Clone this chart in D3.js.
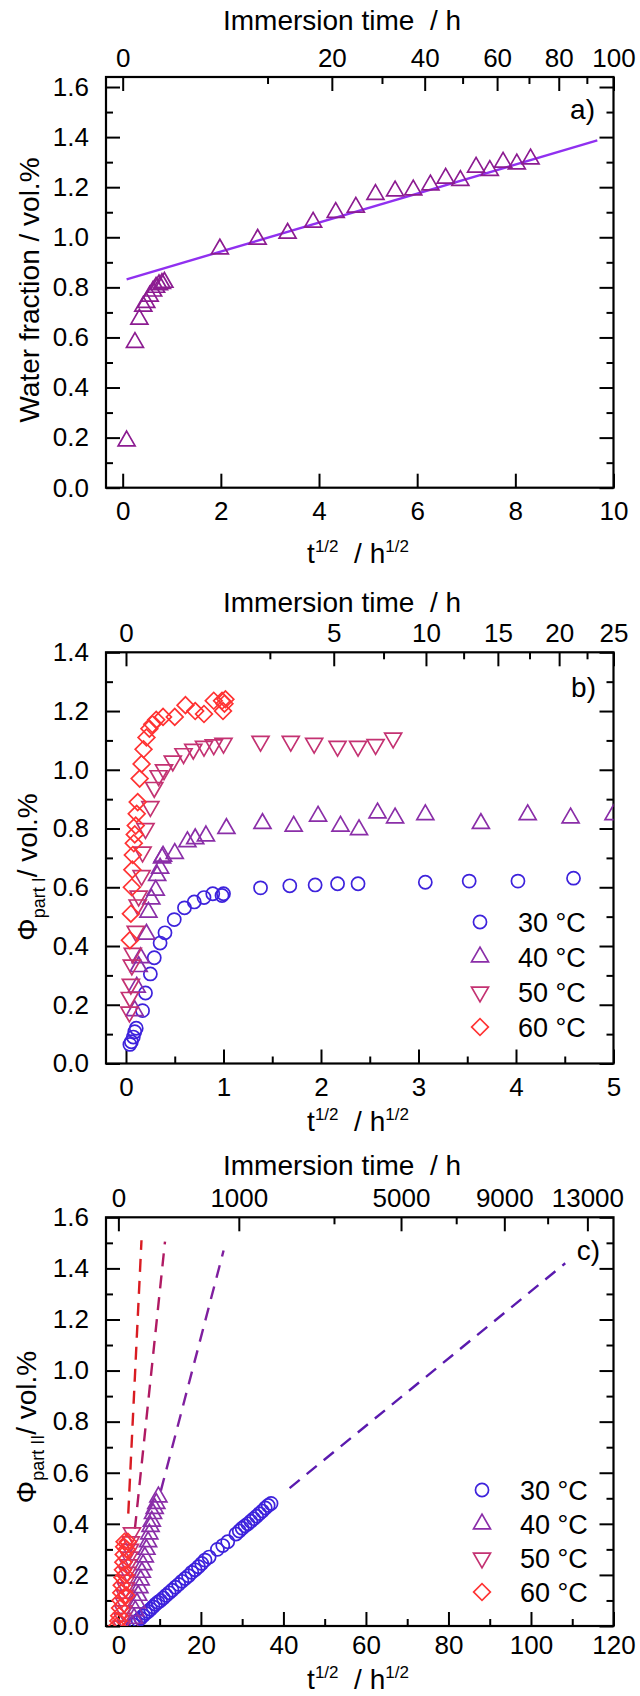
<!DOCTYPE html>
<html>
<head>
<meta charset="utf-8">
<script src="https://cdn.jsdelivr.net/npm/d3@7"></script>
<style>
body { margin: 0; background: #fff; }
svg { display: block; font-family: "Liberation Sans", Arial, sans-serif; }
</style>
</head>
<body>
<svg id="chart" width="640" height="1696"></svg>
<script>
// ---- panel a : water fraction vs t^1/2 ----
var aPoints = [[0.08,0.187],[0.25,0.58],[0.34,0.673],[0.42,0.725],[0.48,0.74],[0.55,0.765],[0.62,0.785],[0.68,0.80],[0.74,0.81],[0.80,0.815],[0.85,0.82],
	[1.98,0.953],[2.75,0.992],[3.36,1.016],[3.88,1.06],[4.34,1.099],[4.75,1.12],[5.15,1.171],[5.55,1.185],[5.92,1.189],[6.27,1.209],
	[6.58,1.236],[6.88,1.227],[7.2,1.28],[7.48,1.267],[7.75,1.30],[8.03,1.293],[8.31,1.313]];
var aFit = [[0.08,0.832],[9.67,1.387]];
var aXTicks = [0,2,4,6,8,10];
var aYTicks = [0,0.2,0.4,0.6,0.8,1.0,1.2,1.4,1.6];
var aYMinor = [0.1,0.3,0.5,0.7,0.9,1.1,1.3,1.5];
var aTopTicks = [0,20,40,60,80,100];
var aTopMinor = [10,30,50,70,90];

// ---- panel b : part I ----
var b30 = [[0.04,0.065],[0.055,0.074],[0.075,0.09],[0.09,0.108],[0.105,0.12],[0.17,0.18],[0.20,0.24],[0.25,0.305],[0.29,0.36],[0.35,0.41],[0.40,0.445],
	[0.495,0.49],[0.60,0.53],[0.70,0.55],[0.80,0.565],[0.89,0.578],[0.985,0.572],[1.0,0.578],[1.38,0.598],[1.68,0.605],[1.94,0.608],[2.17,0.612],
	[2.38,0.612],[3.07,0.617],[3.52,0.621],[4.02,0.621],[4.59,0.631]];
var b40 = [[0.09,0.18],[0.11,0.26],[0.13,0.33],[0.15,0.36],[0.21,0.44],[0.23,0.515],[0.26,0.56],[0.305,0.59],[0.32,0.64],[0.35,0.665],[0.37,0.70],
	[0.38,0.706],[0.50,0.715],[0.63,0.755],[0.71,0.765],[0.82,0.775],[1.03,0.80],[1.40,0.817],[1.72,0.808],[1.97,0.842],[2.2,0.808],[2.39,0.796],
	[2.58,0.853],[2.76,0.836],[3.07,0.847],[3.64,0.817],[4.12,0.847],[4.56,0.836],[5.0,0.847]];
var b50 = [[0.035,0.175],[0.04,0.225],[0.05,0.27],[0.06,0.335],[0.07,0.375],[0.10,0.45],[0.12,0.54],[0.13,0.57],[0.16,0.64],[0.17,0.72],[0.20,0.80],
	[0.25,0.875],[0.29,0.94],[0.335,0.98],[0.39,1.0],[0.48,1.03],[0.59,1.055],[0.69,1.07],[0.80,1.08],[0.90,1.085],[1.0,1.09],[1.38,1.097],
	[1.69,1.097],[1.93,1.09],[2.17,1.08],[2.38,1.08],[2.56,1.086],[2.74,1.108]];
var b60 = [[0.04,0.42],[0.05,0.51],[0.06,0.60],[0.065,0.66],[0.07,0.71],[0.08,0.75],[0.09,0.78],[0.10,0.81],[0.11,0.85],[0.12,0.89],[0.14,0.97],
	[0.16,1.02],[0.18,1.07],[0.21,1.11],[0.24,1.14],[0.27,1.155],[0.31,1.17],[0.38,1.18],[0.50,1.18],[0.61,1.22],[0.71,1.20],[0.80,1.19],
	[0.90,1.235],[0.985,1.235],[0.995,1.20],[1.01,1.225],[1.02,1.24]];
var bXTicks = [0,1,2,3,4,5];
var bXMinor = [0.5,1.5,2.5,3.5,4.5];
var bYTicks = [0,0.2,0.4,0.6,0.8,1.0,1.2,1.4];
var bYMinor = [0.1,0.3,0.5,0.7,0.9,1.1,1.3];
var bTopTicks = [0,5,10,15,20,25];
var bTopMinor = [2.5,7.5,12.5,17.5,22.5];

// ---- panel c : part II ----
var c30 = [[3.6,0.005],[4.2,0.015],[4.8,0.022],[5.4,0.03],[6.0,0.04],[6.6,0.05],[7.2,0.057],[7.8,0.066],[8.4,0.075],[9.0,0.085],[9.6,0.093],
	[10.2,0.10],[10.9,0.11],[11.6,0.12],[12.3,0.13],[13.0,0.14],[13.8,0.152],[14.6,0.163],[15.4,0.175],[16.2,0.186],[17.0,0.197],[17.8,0.21],
	[18.6,0.22],[19.4,0.232],[20.2,0.245],[21.0,0.258],[22.0,0.27],[24.0,0.30],[25.3,0.315],[26.5,0.33],[28.5,0.36],[29.3,0.372],[30.0,0.383],
	[30.7,0.392],[31.4,0.40],[32.1,0.41],[32.8,0.42],[33.5,0.43],[34.2,0.44],[34.9,0.45],[35.6,0.462],[36.3,0.472],[37.0,0.48]];
var c40 = [[3.4,0.0],[3.8,0.03],[4.1,0.06],[4.5,0.09],[4.8,0.12],[5.1,0.15],[5.4,0.18],[5.7,0.21],[6.0,0.24],[6.4,0.27],[6.8,0.30],[7.2,0.33],
	[7.5,0.36],[7.8,0.39],[8.1,0.41],[8.4,0.44],[8.8,0.46],[9.2,0.48],[9.7,0.505]];
var c50 = [[0.8,0.0],[1.0,0.03],[1.2,0.06],[1.4,0.09],[1.6,0.12],[1.8,0.15],[2.0,0.18],[2.2,0.21],[2.4,0.24],[2.6,0.27],[2.8,0.30],[3.0,0.33],[3.3,0.365]];
var c60 = [[-0.3,0.0],[0.0,0.02],[0.2,0.04],[0.4,0.07],[0.5,0.1],[0.7,0.13],[0.8,0.16],[1.0,0.19],[1.1,0.22],[1.2,0.25],[1.3,0.28],[1.4,0.31],
	[1.5,0.33],[2.3,0.33],[2.0,0.30],[1.6,0.20],[1.9,0.12]];
var cFit30 = [[41.5,0.54],[108.3,1.42]];
var cFit40 = [[10.3,0.53],[25.5,1.47]];
var cFit50 = [[4.0,0.38],[11.3,1.505]];
var cFit60 = [[2.4,0.44],[5.6,1.51]];
var cXTicks = [0,20,40,60,80,100,120];
var cXMinor = [10,30,50,70,90,110];
var cYTicks = [0,0.2,0.4,0.6,0.8,1.0,1.2,1.4,1.6];
var cYMinor = [0.1,0.3,0.5,0.7,0.9,1.1,1.3,1.5];
var cTopTicks = [0,1000,5000,9000,13000];
var cTopMinor = [3000,7000,11000];

var legendLabels = ["30 °C", "40 °C", "50 °C", "60 °C"];

var col = {"30": "#3d22dc", "40": "#8a2ea8", "50": "#c43272", "60": "#ff3333"};
var lineCol = {"30": "#5a1aae", "40": "#7f1f9f", "50": "#b01a63", "60": "#d91c22"};

var svg = d3.select("#chart");
var left = 106, right = 613.5;

var shapes = {
	circle: d3.symbol(d3.symbolCircle, 135),
	up: d3.symbol(d3.symbolTriangle, 125),
	down: d3.symbol(d3.symbolTriangle, 125),
	diamond: d3.symbol(d3.symbolSquare, 140)
};
var rot = {circle: 0, up: 0, down: 180, diamond: 45};

function drawPanel(p, id) {
	var x = d3.scaleLinear().domain(p.xDomain).range([left, right]);
	var y = d3.scaleLinear().domain(p.yDomain).range([p.bottom, p.top]);
	// top axis: immersion time, placed on the t^1/2 axis
	var t = d3.scalePow().exponent(0.53).domain([0, p.tMax]).range([x(0), x(p.xMax)]);

	var g = svg.append("g");

	svg.append("clipPath").attr("id", "clip" + id)
		.append("rect").attr("x", left).attr("y", p.top).attr("width", right - left).attr("height", p.bottom - p.top);

	var style = a => a
		.attr("font-size", 26)
		.attr("font-family", null)
		.call(a => a.select(".domain").remove())
		.call(a => a.selectAll(".tick line").attr("stroke-width", 2));

	// bottom
	g.append("g").attr("transform", `translate(0,${p.bottom})`)
		.call(d3.axisBottom(x).tickValues(p.xTicks).tickSize(-14).tickPadding(p.xPad).tickFormat(d3.format("d")))
		.call(style);
	if (p.xMinor) g.append("g").attr("transform", `translate(0,${p.bottom})`)
		.call(d3.axisBottom(x).tickValues(p.xMinor).tickSize(-7).tickFormat(""))
		.call(style);

	// top
	g.append("g").attr("transform", `translate(0,${p.top})`)
		.call(d3.axisTop(t).tickValues(p.topTicks).tickSize(-14).tickPadding(10).tickFormat(d3.format("d")))
		.call(style);
	g.append("g").attr("transform", `translate(0,${p.top})`)
		.call(d3.axisTop(t).tickValues(p.topMinor).tickSize(-7).tickFormat(""))
		.call(style);

	// left / right
	g.append("g").attr("transform", `translate(${left},0)`)
		.call(d3.axisLeft(y).tickValues(p.yTicks).tickSize(-14).tickPadding(17).tickFormat(d3.format(".1f")))
		.call(style);
	g.append("g").attr("transform", `translate(${left},0)`)
		.call(d3.axisLeft(y).tickValues(p.yMinor).tickSize(-7).tickFormat(""))
		.call(style);
	g.append("g").attr("transform", `translate(${right},0)`)
		.call(d3.axisRight(y).tickValues(p.yTicks).tickSize(-14).tickFormat(""))
		.call(style);
	g.append("g").attr("transform", `translate(${right},0)`)
		.call(d3.axisRight(y).tickValues(p.yMinor).tickSize(-7).tickFormat(""))
		.call(style);

	g.append("rect")
		.attr("x", left).attr("y", p.top)
		.attr("width", right - left).attr("height", p.bottom - p.top)
		.attr("fill", "none").attr("stroke", "#000").attr("stroke-width", 2.2);

	// titles
	g.append("text")
		.attr("x", 342).attr("y", p.top - p.titleGap)
		.attr("text-anchor", "middle").attr("font-size", 28)
		.style("white-space", "pre")
		.text("Immersion time  / h");

	var xt = g.append("text")
		.attr("x", 358).attr("y", p.bottom + p.xTitleGap)
		.attr("text-anchor", "middle").attr("font-size", 28)
		.style("white-space", "pre");
	xt.append("tspan").text("t");
	xt.append("tspan").attr("font-size", 17).attr("dy", -11).text("1/2");
	xt.append("tspan").attr("dy", 11).text("  / h");
	xt.append("tspan").attr("font-size", 17).attr("dy", -11).text("1/2");

	var yl = g.append("text")
		.attr("transform", `translate(${p.yLabelX},${p.yLabelY}) rotate(-90)`)
		.attr("text-anchor", "middle").attr("font-size", 28);
	if (p.sub) {
		yl.append("tspan").text("Φ");
		yl.append("tspan").attr("font-size", 18).attr("dy", 8).text("part " + p.sub);
		yl.append("tspan").attr("dy", -8).text("/ vol.%");
	} else {
		yl.text("Water fraction / vol.%");
	}

	g.append("text")
		.attr("x", p.tagX).attr("y", p.tagY)
		.attr("text-anchor", "end").attr("font-size", 28)
		.text(p.tag);

	var plot = g.append("g").attr("clip-path", `url(#clip${id})`);

	(p.lines || []).forEach(function(l) {
		plot.append("path")
			.datum(l.data)
			.attr("d", d3.line().x(d => x(d[0])).y(d => y(d[1])))
			.attr("fill", "none")
			.attr("stroke", l.color)
			.attr("stroke-width", 2.4)
			.attr("stroke-dasharray", l.dash);
	});

	p.series.forEach(function(s) {
		plot.append("g")
			.selectAll("path")
			.data(s.data)
			.enter().append("path")
			.attr("transform", d => `translate(${x(d[0])},${y(d[1])}) rotate(${rot[s.shape]})`)
			.attr("d", shapes[s.shape])
			.attr("fill", "none")
			.attr("stroke", s.color)
			.attr("stroke-width", 1.7);
	});

	if (p.legend) {
		p.series.forEach(function(s, i) {
			var ly = p.legend.y + i * p.legend.step;
			g.append("path")
				.attr("transform", `translate(${p.legend.x},${ly}) rotate(${rot[s.shape]})`)
				.attr("d", shapes[s.shape])
				.attr("fill", "none")
				.attr("stroke", s.color)
				.attr("stroke-width", 1.7);
			g.append("text")
				.attr("x", p.legend.x + 38).attr("y", ly + 10)
				.attr("font-size", 27)
				.text(legendLabels[i]);
		});
	}
}

drawPanel({
	top: 77, bottom: 487.7, xDomain: [-0.34, 10], yDomain: [0, 1.64], xMax: 10, tMax: 100, xPad: 14,
	xTicks: aXTicks, xMinor: null, yTicks: aYTicks, yMinor: aYMinor, topTicks: aTopTicks, topMinor: aTopMinor,
	titleGap: 47, xTitleGap: 75, yLabelX: 39, yLabelY: 290, tag: "a)", tagX: 595, tagY: 119,
	lines: [{data: aFit, color: "#9030f0", dash: null}],
	series: [{data: aPoints, shape: "up", color: "#8c1c91"}]
}, "a");

drawPanel({
	top: 652.3, bottom: 1063.5, xDomain: [-0.205, 5], yDomain: [0, 1.4], xMax: 5, tMax: 25, xPad: 14,
	xTicks: bXTicks, xMinor: bXMinor, yTicks: bYTicks, yMinor: bYMinor, topTicks: bTopTicks, topMinor: bTopMinor,
	titleGap: 40, xTitleGap: 67, yLabelX: 37, yLabelY: 867, sub: "I", tag: "b)", tagX: 596, tagY: 697,
	series: [
		{data: b30, shape: "circle", color: col["30"]},
		{data: b40, shape: "up", color: col["40"]},
		{data: b50, shape: "down", color: col["50"]},
		{data: b60, shape: "diamond", color: col["60"]}
	],
	legend: {x: 480, y: 922, step: 35}
}, "b");

drawPanel({
	top: 1217.3, bottom: 1626, xDomain: [-3, 120], yDomain: [0, 1.6], xMax: 120, tMax: 14400, xPad: 10,
	xTicks: cXTicks, xMinor: cXMinor, yTicks: cYTicks, yMinor: cYMinor, topTicks: cTopTicks, topMinor: cTopMinor,
	titleGap: 42, xTitleGap: 63, yLabelX: 36, yLabelY: 1427, sub: "II", tag: "c)", tagX: 600, tagY: 1260,
	lines: [
		{data: cFit30, color: lineCol["30"], dash: "13,9"},
		{data: cFit40, color: lineCol["40"], dash: "13,9"},
		{data: cFit50, color: lineCol["50"], dash: "13,9"},
		{data: cFit60, color: lineCol["60"], dash: "13,9"}
	],
	series: [
		{data: c30, shape: "circle", color: col["30"]},
		{data: c40, shape: "up", color: col["40"]},
		{data: c50, shape: "down", color: col["50"]},
		{data: c60, shape: "diamond", color: col["60"]}
	],
	legend: {x: 482, y: 1490, step: 34}
}, "c");
</script>
</body>
</html>
